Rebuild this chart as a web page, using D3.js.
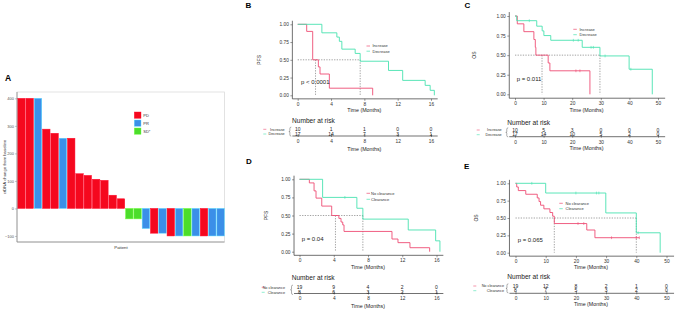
<!DOCTYPE html>
<html>
<head>
<meta charset="utf-8">
<script src="https://cdn.jsdelivr.net/npm/d3@7"></script>
<style>
  body { margin: 0; background: #fff; }
  text { font-family: "Liberation Sans", Arial, sans-serif; }
</style>
</head>
<body>
<svg id="fig" width="675" height="311"></svg>
<script>
// ---- panel A: waterfall ----
const barValues = [400, 400, 400, 288, 273, 255, 255, 126, 120, 106, 102, 48, 35, -38, -38, -73, -90, -90, -100, -100, -100, -100, -100, -100, -100];
const barResponse = ["PD", "PD", "PR", "PD", "PD", "PR", "PD", "PD", "PD", "PD", "PD", "PD", "PD", "SD", "SD", "PR", "PD", "PR", "PD", "PR", "SD", "PR", "PD", "PR", "PR"];
const responseKeys = ["PD", "PR", "SD"];
const responseLabels = ["PD", "PR", "SD*"];
const responseColors = ["#f5081e", "#3b8fe8", "#4cdd2b"];
const barTicks = [-100, 0, 100, 200, 300, 400];

// ---- survival ticks ----
const pfsTicks = [0, 4, 8, 12, 16];
const osTicks = [0, 10, 20, 30, 40, 50];
const survTicks = [0, 0.25, 0.5, 0.75, 1];

// ---- panel B: PFS by ctDNA change ----
const pfsIncTime = [0, 1.08, 1.8, 2.48, 2.68, 3.8, 9.0];
const pfsIncSurv = [1, 0.9, 0.5, 0.4, 0.3, 0.1, 0];
const pfsDecTime = [0, 2.9, 4.7, 5.0, 5.3, 6.9, 7.5, 10.9, 12.6, 15.3, 15.9, 16.4];
const pfsDecSurv = [1, 0.88, 0.82, 0.76, 0.65, 0.59, 0.48, 0.35, 0.21, 0.14, 0.07, 0];
const pfsChangeMedians = [2.14, 7.5];
const pfsIncRisk = [10, 1, 1, 0, 0];
const pfsDecRisk = [17, 14, 7, 3, 1];

// ---- panel C: OS by ctDNA change ----
const osIncTime = [0, 0.8, 3.1, 6.6, 7.1, 7.3, 11.6, 12.2, 26.2];
const osIncSurv = [1, 0.9, 0.8, 0.7, 0.6, 0.5, 0.4, 0.3, 0];
const osIncCensor = [21.3, 22.7];
const osDecTime = [0, 0.6, 7.6, 9.5, 10.1, 12.5, 23.5, 29.7, 39.9, 48.0];
const osDecSurv = [1, 0.94, 0.87, 0.81, 0.75, 0.69, 0.6, 0.49, 0.32, 0];
const osDecCensor = [5.0, 20.4, 22.1, 26.6, 27.4, 31.5, 40.5];
const osChangeMedians = [9.45, 29.7];
const osIncRisk = [10, 5, 3, 0, 0, 0];
const osDecRisk = [17, 14, 10, 5, 2, 0];

// ---- panel D: PFS by clearance ----
const pfsNoTime = [0, 1.15, 1.7, 1.93, 2.6, 3.76, 4.6, 4.85, 5.05, 5.2, 10.8, 11.5, 12.9, 15.2];
const pfsNoSurv = [1, 0.95, 0.84, 0.74, 0.63, 0.5, 0.46, 0.41, 0.37, 0.28, 0.175, 0.125, 0.055, 0];
const pfsClrTime = [0, 2.7, 6.7, 7.4, 12.7, 15.9, 16.4];
const pfsClrSurv = [1, 0.75, 0.6, 0.45, 0.3, 0.15, 0];
const pfsClrCensor = [5.3];
const pfsClrMedians = [4.2, 7.4];
const pfsNoRisk = [19, 9, 4, 2, 0];
const pfsClrRisk = [8, 6, 3, 2, 1];

// ---- panel E: OS by clearance ----
const osNoTime = [0, 0.4, 0.93, 3.4, 7.2, 7.8, 8.3, 9.4, 11.4, 12.3, 12.85, 23.6, 26.3, 41];
const osNoSurv = [1, 0.947, 0.895, 0.842, 0.789, 0.737, 0.684, 0.632, 0.579, 0.526, 0.42, 0.327, 0.216, 0.216];
const osNoCensor = [20.7, 22.6, 31.8, 40, 41];
const osClrTime = [0, 10, 29.9, 40, 47.9];
const osClrSurv = [1, 0.86, 0.573, 0.287, 0];
const osClrCensor = [5.4, 20, 26.8, 27.6, 40.6];
const osClrMedians = [12.85, 40];
const osNoRisk = [19, 12, 8, 2, 1, 0];
const osClrRisk = [8, 7, 5, 3, 2, 0];

const RED = "#ee4d74";
const GREEN = "#47e2b0";
const svg = d3.select("#fig");

// ================= panel A =================
const gA = svg.append("g");
const xA = d3.scaleBand().domain(d3.range(barValues.length)).range([17.5, 224.5]).paddingInner(0.1).paddingOuter(0.02);
const yA = d3.scaleLinear().domain([-122, 423]).range([242, 92]);
const colorA = d3.scaleOrdinal().domain(responseKeys).range(responseColors);

gA.append("rect").attr("x", 17).attr("y", 92).attr("width", 207.5).attr("height", 150)
  .attr("fill", "none").attr("stroke", "#d6d6d6").attr("stroke-width", 0.7);

gA.selectAll("rect.bar")
  .data(barValues)
  .join("rect")
  .attr("class", "bar")
  .attr("x", (d, i) => xA(i))
  .attr("width", xA.bandwidth())
  .attr("y", d => yA(Math.max(0, d)))
  .attr("height", d => Math.abs(yA(d) - yA(0)))
  .attr("fill", (d, i) => colorA(barResponse[i]))
  .attr("stroke", (d, i) => d3.color(colorA(barResponse[i])).brighter(1.2))
  .attr("stroke-width", 0.5);

const yAxisA = gA.append("g").attr("transform", "translate(17,0)")
  .call(d3.axisLeft(yA).tickValues(barTicks).tickSize(2).tickPadding(1));
yAxisA.select(".domain").remove();
yAxisA.selectAll("line").attr("stroke", "#888").attr("stroke-width", 0.5);
yAxisA.selectAll("text").attr("font-size", 4).attr("fill", "#555");
gA.append("line").attr("x1", 17).attr("x2", 17).attr("y1", 92).attr("y2", 242).attr("stroke", "#8a8a8a").attr("stroke-width", 0.8);
gA.append("line").attr("x1", 17).attr("x2", 224.5).attr("y1", 242).attr("y2", 242).attr("stroke", "#8a8a8a").attr("stroke-width", 0.8);

gA.append("text").attr("x", 5).attr("y", 81).attr("font-size", 8.5).attr("font-weight", "bold").text("A");
gA.append("text").attr("transform", "translate(6,167) rotate(-90)").attr("text-anchor", "middle")
  .attr("font-size", 4.3).attr("fill", "#333").text("ctDNA change from baseline");
gA.append("text").attr("x", 121).attr("y", 249).attr("text-anchor", "middle")
  .attr("font-size", 4.3).attr("fill", "#333").text("Patient");

const legA = gA.append("g");
responseKeys.forEach((k, i) => {
  legA.append("rect").attr("x", 134.3).attr("y", 112 + i * 8).attr("width", 6.7).attr("height", 6.3)
    .attr("fill", responseColors[i]).attr("stroke", d3.color(responseColors[i]).brighter(1.2)).attr("stroke-width", 0.4);
  legA.append("text").attr("x", 143.3).attr("y", 115.2 + i * 8).attr("dy", "0.35em")
    .attr("font-size", 4).attr("fill", "#333").text(responseLabels[i]);
});

// ================= KM panels =================
function drawKM(o) {
  const g = svg.append("g");
  const x = d3.scaleLinear().domain([0, o.xMax]).range(o.xRange);
  const y = d3.scaleLinear().domain([0, 1]).range(o.yRange);
  const xL = x(-0.04 * o.xMax), xR = x(1.05 * o.xMax);
  const yB = y(-0.05), yT = y(1.05);

  // median guide lines
  const medMax = d3.max(o.medians);
  const dash = g.append("g").attr("stroke", "#555").attr("stroke-width", 0.55).attr("stroke-dasharray", "1.3,1.3");
  dash.append("line").attr("x1", x(0)).attr("x2", x(medMax)).attr("y1", y(0.5)).attr("y2", y(0.5));
  o.medians.forEach(m => dash.append("line").attr("x1", x(m)).attr("x2", x(m)).attr("y1", y(0.5)).attr("y2", y(0)));

  // curves
  const line = d3.line().x(d => x(d[0])).y(d => y(d[1])).curve(d3.curveStepAfter);
  o.curves.forEach(c => {
    const pts = c.time.map((t, i) => [t, c.surv[i]]);
    g.append("path").attr("d", line(pts)).attr("fill", "none").attr("stroke", c.color).attr("stroke-width", 0.9);
    (c.censor || []).forEach(t => {
      const idx = d3.bisectRight(c.time, t) - 1;
      const s = c.surv[Math.max(0, idx)];
      g.append("line").attr("x1", x(t)).attr("x2", x(t)).attr("y1", y(s) - 1.4).attr("y2", y(s) + 1.4)
        .attr("stroke", c.color).attr("stroke-width", 0.6);
    });
  });

  // axes
  const axB = g.append("g").attr("transform", `translate(0,${yB})`)
    .call(d3.axisBottom(x).tickValues(o.ticks).tickSize(2).tickPadding(1.5));
  const axL = g.append("g").attr("transform", `translate(${xL},0)`)
    .call(d3.axisLeft(y).tickValues(survTicks).tickFormat(d3.format(".2f")).tickSize(2).tickPadding(1.5));
  [axB, axL].forEach(a => {
    a.select(".domain").remove();
    a.selectAll("line").attr("stroke", "#333").attr("stroke-width", 0.5);
    a.selectAll("text").attr("font-size", 4.8).attr("fill", "#333");
  });
  g.append("line").attr("x1", xL).attr("x2", xR).attr("y1", yB).attr("y2", yB).attr("stroke", "#333").attr("stroke-width", 0.7);
  g.append("line").attr("x1", xL).attr("x2", xL).attr("y1", yB).attr("y2", yT).attr("stroke", "#333").attr("stroke-width", 0.7);

  const xMid = x(o.xMax / 2);
  g.append("text").attr("x", xMid).attr("y", o.timeY).attr("text-anchor", "middle")
    .attr("font-size", 5.3).attr("fill", "#222").text("Time (Months)");
  g.append("text").attr("transform", `translate(${o.ylabX},${y(0.5)}) rotate(-90)`).attr("text-anchor", "middle")
    .attr("font-size", 5).attr("fill", "#222").text(o.ylab);
  g.append("text").attr("x", o.letter[1]).attr("y", o.letter[2]).attr("font-size", 8).attr("font-weight", "bold").text(o.letter[0]);
  g.append("text").attr("x", o.pPos[0]).attr("y", o.pPos[1]).attr("font-size", 6).attr("fill", "#222").text(o.pText);

  // legend
  o.curves.forEach((c, i) => {
    const ly = o.legend[1] + i * o.legend[3];
    g.append("line").attr("x1", o.legend[0]).attr("x2", o.legend[0] + 3.5).attr("y1", ly).attr("y2", ly)
      .attr("stroke", c.color).attr("stroke-width", 0.7);
    g.append("text").attr("x", o.legend[2]).attr("y", ly).attr("dy", "0.35em").attr("font-size", 4)
      .attr("fill", "#333").text(c.label);
  });

  // risk table
  const t = o.table;
  g.append("text").attr("x", t.titleX).attr("y", t.titleY).attr("dy", "0.35em").attr("font-size", 6.6)
    .attr("fill", "#222").text("Number at risk");
  o.curves.forEach((c, i) => {
    const ry = t.rows[i];
    g.selectAll(null).data(c.risk).join("text")
      .attr("x", (d, j) => x(o.ticks[j])).attr("y", ry).attr("dy", "0.35em")
      .attr("text-anchor", "middle").attr("font-size", 5).attr("fill", "#222").text(d => d);
    g.append("line").attr("x1", t.dashX).attr("x2", t.dashX + 3).attr("y1", ry).attr("y2", ry)
      .attr("stroke", c.color).attr("stroke-width", 0.6);
    g.append("text").attr("x", t.labelRight).attr("y", ry).attr("dy", "0.35em").attr("text-anchor", "end")
      .attr("font-size", 3.8).attr("fill", "#333").text(c.label);
  });
  const bx = xL - 2.5, bt = t.rows[0] - 2.2, bb = t.rows[1] + 2.2, bm = (bt + bb) / 2;
  g.append("path")
    .attr("d", `M${bx + 1.4},${bt} Q${bx},${bt} ${bx},${bt + 1.4} L${bx},${bm - 0.8} Q${bx},${bm} ${bx - 1},${bm} Q${bx},${bm} ${bx},${bm + 0.8} L${bx},${bb - 1.4} Q${bx},${bb} ${bx + 1.4},${bb}`)
    .attr("fill", "none").attr("stroke", "#333").attr("stroke-width", 0.4);
  const axT = g.append("g").attr("transform", `translate(0,${t.axisY})`)
    .call(d3.axisBottom(x).tickValues(o.ticks).tickSize(2).tickPadding(1.5));
  axT.select(".domain").remove();
  axT.selectAll("line").attr("stroke", "#333").attr("stroke-width", 0.5).attr("y1", -2).attr("y2", 1);
  axT.selectAll("text").attr("font-size", 4.8).attr("fill", "#333");
  g.append("line").attr("x1", xL).attr("x2", xR).attr("y1", t.axisY).attr("y2", t.axisY).attr("stroke", "#333").attr("stroke-width", 0.7);
  g.append("text").attr("x", xMid).attr("y", t.timeY).attr("text-anchor", "middle")
    .attr("font-size", 5.3).attr("fill", "#222").text("Time (Months)");
}

drawKM({
  xMax: 16, ticks: pfsTicks, xRange: [297.7, 431], yRange: [95.3, 24.3],
  letter: ["B", 245.5, 8], ylab: "PFS", ylabX: 260.5, timeY: 112,
  pText: "p < 0.0001", pPos: [301, 83.6], medians: pfsChangeMedians,
  legend: [366.5, 46, 372.5, 5.2],
  curves: [
    { label: "Increase", color: RED, time: pfsIncTime, surv: pfsIncSurv, risk: pfsIncRisk },
    { label: "Decrease", color: GREEN, time: pfsDecTime, surv: pfsDecSurv, risk: pfsDecRisk }
  ],
  table: { titleX: 292, titleY: 121, rows: [129.3, 134], axisY: 136, timeY: 150.5, dashX: 263.3, labelRight: 284.7 }
});

drawKM({
  xMax: 50, ticks: osTicks, xRange: [515, 658], yRange: [94.3, 16],
  letter: ["C", 464.5, 8], ylab: "OS", ylabX: 476, timeY: 111.5,
  pText: "p = 0.011", pPos: [516.7, 81], medians: osChangeMedians,
  legend: [573.3, 29.3, 579.5, 5.4],
  curves: [
    { label: "Increase", color: RED, time: osIncTime, surv: osIncSurv, censor: osIncCensor, risk: osIncRisk },
    { label: "Decrease", color: GREEN, time: osDecTime, surv: osDecSurv, censor: osDecCensor, risk: osDecRisk }
  ],
  table: { titleX: 507.3, titleY: 122.7, rows: [130, 134.7], axisY: 136.7, timeY: 150.2, dashX: 476.7, labelRight: 501.7 }
});

drawKM({
  xMax: 16, ticks: pfsTicks, xRange: [299.5, 436.5], yRange: [251.7, 179.3],
  letter: ["D", 246, 163.5], ylab: "PFS", ylabX: 267.5, timeY: 268.5,
  pText: "p = 0.04", pPos: [301.7, 241], medians: pfsClrMedians,
  legend: [366.5, 193.3, 371, 6],
  curves: [
    { label: "No clearance", color: RED, time: pfsNoTime, surv: pfsNoSurv, risk: pfsNoRisk },
    { label: "Clearance", color: GREEN, time: pfsClrTime, surv: pfsClrSurv, censor: pfsClrCensor, risk: pfsClrRisk }
  ],
  table: { titleX: 291.7, titleY: 277.3, rows: [287.3, 292.3], axisY: 293.5, timeY: 307.6, dashX: 261.7, labelRight: 285 }
});

drawKM({
  xMax: 50, ticks: osTicks, xRange: [515.5, 666.5], yRange: [252.7, 183.3],
  letter: ["E", 464, 168.5], ylab: "OS", ylabX: 478, timeY: 268.5,
  pText: "p = 0.065", pPos: [517.7, 242], medians: osClrMedians,
  legend: [559.3, 203.3, 565.5, 5.4],
  curves: [
    { label: "No clearance", color: RED, time: osNoTime, surv: osNoSurv, censor: osNoCensor, risk: osNoRisk },
    { label: "Clearance", color: GREEN, time: osClrTime, surv: osClrSurv, censor: osClrCensor, risk: osClrRisk }
  ],
  table: { titleX: 507.3, titleY: 276.7, rows: [286, 290.7], axisY: 293.3, timeY: 306, dashX: 473.3, labelRight: 504 }
});
</script>
</body>
</html>
